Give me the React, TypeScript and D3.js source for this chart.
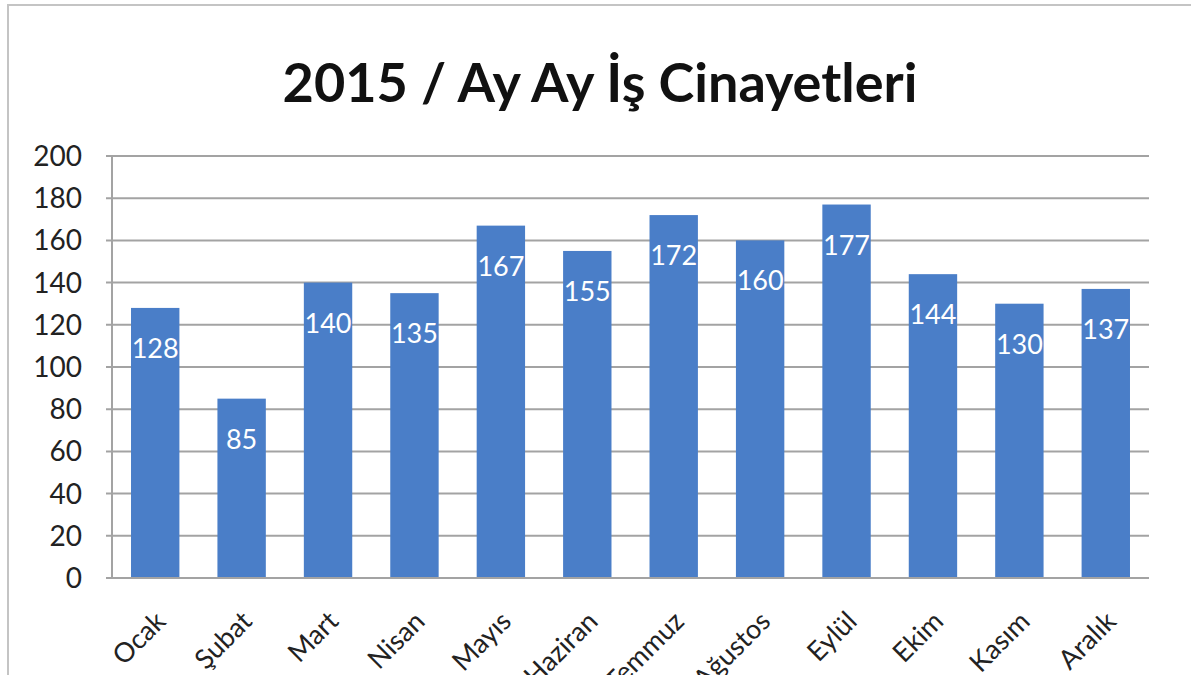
import { useEffect, useRef } from 'react';
import * as d3 from 'd3';

const months = ['Ocak', 'Şubat', 'Mart', 'Nisan', 'Mayıs', 'Haziran', 'Temmuz', 'Ağustos', 'Eylül', 'Ekim', 'Kasım', 'Aralık'];
const deaths = [128, 85, 140, 135, 167, 155, 172, 160, 177, 144, 130, 137];
const yTicks = [0, 20, 40, 60, 80, 100, 120, 140, 160, 180, 200];
const title = '2015 / Ay Ay İş Cinayetleri';

const W = 1200;
const H = 675;
const plot = { left: 112, right: 1149, top: 156, bottom: 578 };
const font = 'Lato, "Open Sans", sans-serif';
const barColor = '#4a7ec8';
const gridColor = '#a3a3a3';

export default function App() {
  const ref = useRef<SVGSVGElement>(null);

  useEffect(() => {
    const svg = d3.select(ref.current);
    svg.selectAll('*').remove();

    const x = d3.scaleBand<string>().domain(months).range([plot.left, plot.right]).paddingInner(0.44).paddingOuter(0.22);
    const y = d3.scaleLinear().domain([0, 200]).range([plot.bottom, plot.top]);

    // chart frame
    svg
      .append('path')
      .attr('d', `M8,${H} V5 H1191`)
      .attr('fill', 'none')
      .attr('stroke', '#c4c4c4')
      .attr('stroke-width', 2);

    svg
      .append('text')
      .attr('x', 600)
      .attr('y', 102)
      .attr('text-anchor', 'middle')
      .attr('font-family', font)
      .attr('font-weight', 700)
      .attr('font-size', 54)
      .attr('fill', '#111')
      .text(title);

    // grid + y ticks
    const yg = svg.append('g');
    yTicks.forEach((t) => {
      yg.append('line')
        .attr('x1', plot.left - 6)
        .attr('x2', plot.right)
        .attr('y1', y(t))
        .attr('y2', y(t))
        .attr('stroke', gridColor)
        .attr('stroke-width', 2);
      yg.append('text')
        .attr('x', 82)
        .attr('y', y(t) + 10)
        .attr('text-anchor', 'end')
        .attr('font-family', font)
        .attr('font-size', 28)
        .attr('fill', '#222')
        .text(t);
    });

    svg
      .append('line')
      .attr('x1', plot.left)
      .attr('x2', plot.left)
      .attr('y1', plot.top)
      .attr('y2', plot.bottom)
      .attr('stroke', gridColor)
      .attr('stroke-width', 2);

    // bars
    svg
      .append('g')
      .selectAll('rect')
      .data(deaths)
      .join('rect')
      .attr('x', (_, i) => x(months[i])!)
      .attr('width', x.bandwidth())
      .attr('y', (d) => y(d))
      .attr('height', (d) => y(0) - y(d))
      .attr('fill', barColor);

    svg
      .append('line')
      .attr('x1', plot.left)
      .attr('x2', plot.right)
      .attr('y1', plot.bottom)
      .attr('y2', plot.bottom)
      .attr('stroke', gridColor)
      .attr('stroke-width', 2);

    // value labels
    svg
      .append('g')
      .selectAll('text')
      .data(deaths)
      .join('text')
      .attr('x', (_, i) => x(months[i])! + x.bandwidth() / 2)
      .attr('y', (d) => y(d) + 50)
      .attr('text-anchor', 'middle')
      .attr('font-family', font)
      .attr('font-size', 27)
      .attr('fill', '#ffffff')
      .text((d) => d);

    // rotated month labels
    svg
      .append('g')
      .selectAll('text')
      .data(months)
      .join('text')
      .attr('transform', (m) => `translate(${x(m)! + x.bandwidth() / 2 + 12},${plot.bottom + 45}) rotate(-45)`)
      .attr('text-anchor', 'end')
      .attr('font-family', font)
      .attr('font-size', 27)
      .attr('fill', '#222')
      .text((m) => m);
  }, []);

  return (
    <div style={{ position: 'absolute', left: 0, top: 0 }}>
      <svg ref={ref} width={W} height={H} style={{ display: 'block', background: '#fff' }} />
    </div>
  );
}
